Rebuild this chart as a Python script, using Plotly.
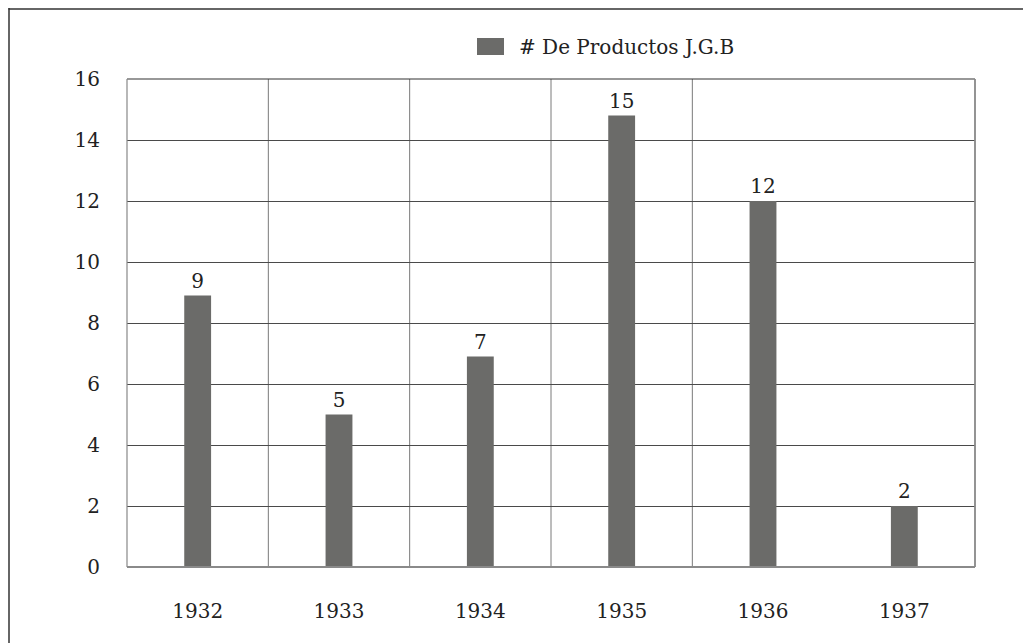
import plotly.graph_objects as go

years = ["1932", "1933", "1934", "1935", "1936", "1937"]
productos = [8.9, 5, 6.9, 14.8, 12, 2]
etiquetas = ["9", "5", "7", "15", "12", "2"]
serie = "# De Productos J.G.B"
y_ticks = [0, 2, 4, 6, 8, 10, 12, 14, 16]

FONT = "DejaVu Serif"
BAR = "#6b6b69"
TXT = "#222222"

OFF = 8
L, R, T, B = 127 - OFF, 64, 79 - OFF, 84
PW, PH = 1031 - L - R, 643 - T - B


def px(xp):
    return (xp - OFF - L) / PW


def py(yp):
    return (643 - B - (yp - OFF)) / PH


fig = go.Figure()
fig.add_trace(go.Bar(
    x=years, y=productos, name=serie, width=0.19,
    marker=dict(color=BAR, line=dict(width=0)),
    text=etiquetas, textposition="outside", cliponaxis=False,
    textfont=dict(family=FONT, size=20, color=TXT),
    showlegend=False,
))

shapes = []
for b in [0.5, 1.5, 2.5, 3.5]:
    shapes.append(dict(type="line", xref="x", yref="paper", x0=b, x1=b, y0=0, y1=1,
                       line=dict(color="#7a7a7a", width=1), layer="below"))
shapes.append(dict(type="line", xref="paper", yref="paper", x0=0, x1=1, y0=1, y1=1,
                   line=dict(color="#333333", width=1.2)))
shapes.append(dict(type="line", xref="paper", yref="paper", x0=0, x1=0, y0=0, y1=1,
                   line=dict(color="#888888", width=1.2)))
shapes.append(dict(type="line", xref="paper", yref="paper", x0=1, x1=1, y0=0, y1=1,
                   line=dict(color="#888888", width=1.8)))
shapes.append(dict(type="line", xref="paper", yref="paper", x0=0, x1=1, y0=0, y1=0,
                   line=dict(color="#8a8a8a", width=2)))
shapes.append(dict(type="line", xref="paper", yref="paper", x0=px(8.5), x1=px(1040), y0=py(9), y1=py(9),
                   line=dict(color="#333333", width=1.5)))
shapes.append(dict(type="line", xref="paper", yref="paper", x0=px(9), x1=px(9), y0=py(8), y1=py(660),
                   line=dict(color="#333333", width=1.5)))
shapes.append(dict(type="rect", xref="paper", yref="paper",
                   x0=px(477), x1=px(504), y0=py(55), y1=py(38),
                   fillcolor=BAR, line=dict(width=0)))

fig.update_layout(
    width=1031, height=643,
    margin=dict(l=L, r=R, t=T, b=B),
    paper_bgcolor="white", plot_bgcolor="white",
    font=dict(family=FONT, size=20, color=TXT),
    shapes=shapes,
    annotations=[dict(text=serie, xref="paper", yref="paper",
                      x=px(517), y=py(46.5),
                      xanchor="left", yanchor="middle", showarrow=False,
                      font=dict(family=FONT, size=20, color=TXT))],
    xaxis=dict(showgrid=False, showline=False, zeroline=False, ticks="",
               ticklabelstandoff=30, tickfont=dict(family=FONT, size=20, color=TXT)),
    yaxis=dict(range=[0, 16], tickvals=y_ticks, showgrid=True, gridcolor="#4a4a4a", gridwidth=1,
               zeroline=False, showline=False, ticks="", ticklabelstandoff=26,
               tickfont=dict(family=FONT, size=20, color=TXT)),
)

fig.write_html("out.html")
